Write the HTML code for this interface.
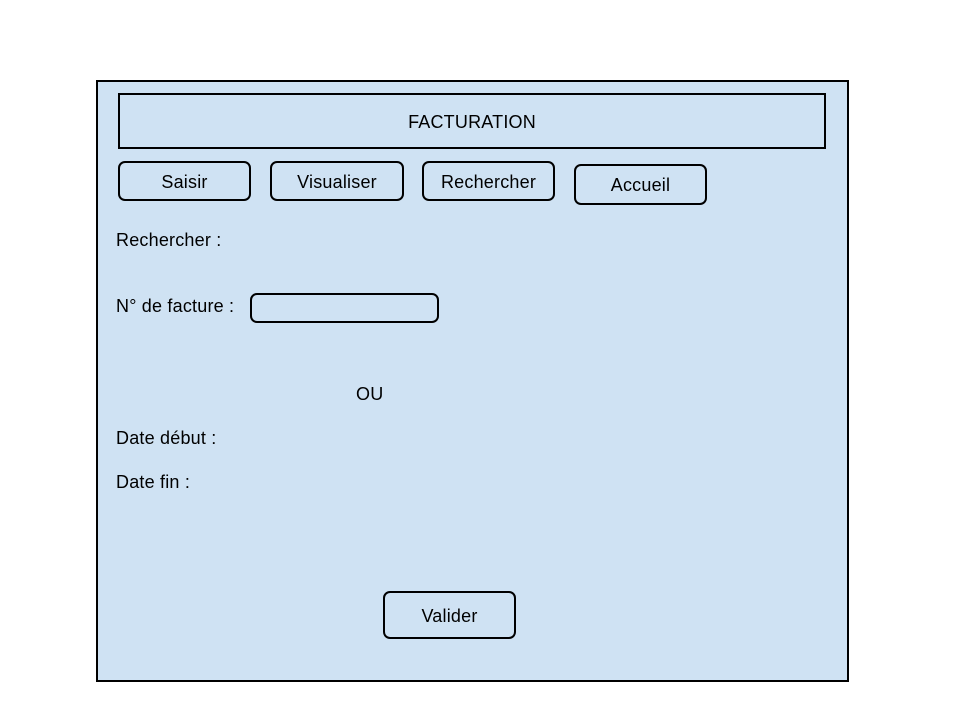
<!DOCTYPE html>
<html><head><style>
body{margin:0;width:960px;height:720px;background:#fff;position:relative;font-family:"Liberation Sans",Arial,sans-serif;font-size:18px;letter-spacing:0.2px;color:#000}
div{position:absolute;box-sizing:border-box}
.b{border:2px solid #000;border-radius:7px;display:flex;align-items:center;justify-content:center;padding-top:2px}
.t{white-space:nowrap}
</style></head><body>
<div style="left:96px;top:80px;width:753px;height:602px;background:#cfe2f3;border:2px solid #000"></div>
<div class="b" style="left:118px;top:93px;width:708px;height:56px;border-radius:0">FACTURATION</div>
<div class="b" style="left:118px;top:161px;width:133px;height:40px">Saisir</div>
<div class="b" style="left:270px;top:161px;width:134px;height:40px">Visualiser</div>
<div class="b" style="left:422px;top:161px;width:133px;height:40px">Rechercher</div>
<div class="b" style="left:574px;top:164px;width:133px;height:41px">Accueil</div>
<div class="t" style="left:116px;top:230px">Rechercher :</div>
<div class="t" style="left:116px;top:296px">N° de facture :</div>
<div class="b" style="left:250px;top:293px;width:189px;height:30px"></div>
<div class="t" style="left:356px;top:384px">OU</div>
<div class="t" style="left:116px;top:428px">Date début :</div>
<div class="t" style="left:116px;top:472px">Date fin :</div>
<div class="b" style="left:383px;top:591px;width:133px;height:48px">Valider</div>
</body></html>
